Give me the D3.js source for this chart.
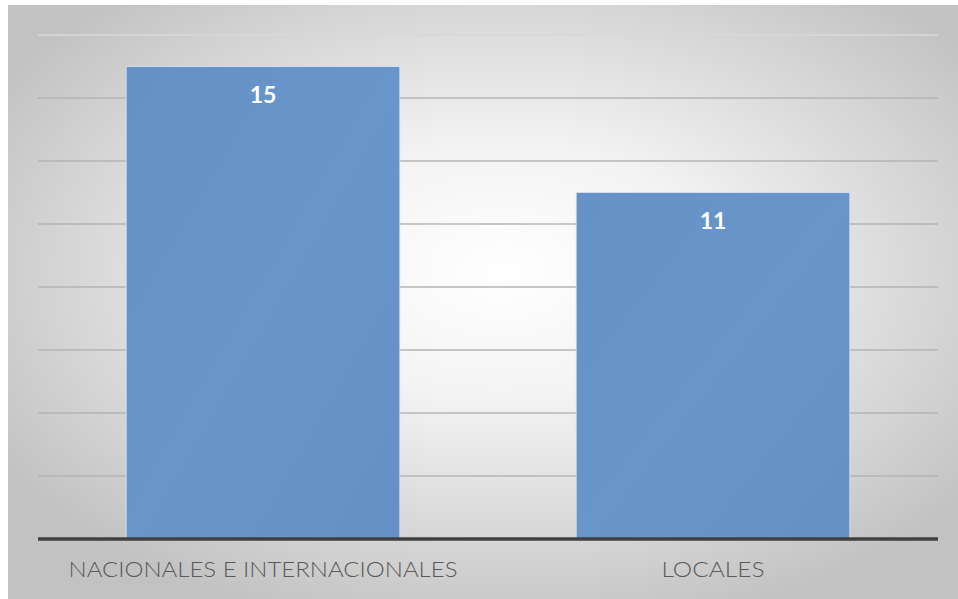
<!DOCTYPE html>
<html>
<head>
<meta charset="utf-8">
<script src="https://cdn.jsdelivr.net/npm/d3@7"></script>
<style>
html,body{margin:0;padding:0;background:#fff;}
svg{display:block;}
</style>
</head>
<body>
<svg id="chart" width="958" height="599"></svg>
<script>
const categories = ["NACIONALES E INTERNACIONALES", "LOCALES"];
const values = [15, 11];
const yTicks = [0, 2, 4, 6, 8, 10, 12, 14, 16];

const W = 958, H = 599;
const svg = d3.select("#chart");
const defs = svg.append("defs");

const rg = defs.append("radialGradient").attr("id", "bg")
  .attr("cx", "52%").attr("cy", "45%").attr("r", "62%");
rg.append("stop").attr("offset", "0%").attr("stop-color", "#ffffff");
rg.append("stop").attr("offset", "35%").attr("stop-color", "#f3f3f3");
rg.append("stop").attr("offset", "100%").attr("stop-color", "#c2c2c2");

const barG = defs.append("linearGradient").attr("id", "barg")
  .attr("x1", "0%").attr("y1", "0%").attr("x2", "100%").attr("y2", "100%");
barG.append("stop").attr("offset", "0%").attr("stop-color", "#6591c6");
barG.append("stop").attr("offset", "50%").attr("stop-color", "#6996ca");
barG.append("stop").attr("offset", "100%").attr("stop-color", "#6590c5");

svg.append("rect").attr("x", 8).attr("y", 5).attr("width", W - 8).attr("height", H - 5)
  .attr("fill", "url(#bg)");

const x = d3.scaleBand().domain(categories).range([38, 938])
  .paddingInner(0.392).paddingOuter(0.196);
const y = d3.scaleLinear().domain([0, 16]).range([539, 35]);

// gridlines
svg.append("g").selectAll("line").data(yTicks.filter(d => d > 0)).join("line")
  .attr("x1", 38).attr("x2", 938)
  .attr("y1", d => y(d)).attr("y2", d => y(d))
  .attr("stroke", (d) => d === 16 ? "#d9d9d9" : "#b4b4b4")
  .attr("stroke-width", 1.3);

// bars
svg.append("g").selectAll("rect").data(values).join("rect")
  .attr("x", (d, i) => x(categories[i]))
  .attr("y", d => y(d))
  .attr("width", x.bandwidth())
  .attr("height", d => y(0) - y(d))
  .attr("fill", "url(#barg)")
  .attr("stroke", "#dce6f2")
  .attr("stroke-opacity", 0.8)
  .attr("stroke-width", 1);

// data labels
svg.append("g").selectAll("text").data(values).join("text")
  .attr("x", (d, i) => x(categories[i]) + x.bandwidth() / 2)
  .attr("y", d => y(d) + 36)
  .attr("text-anchor", "middle")
  .attr("fill", "#ffffff")
  .attr("font-family", "Lato, 'Open Sans', sans-serif")
  .attr("font-weight", "bold")
  .attr("font-size", 23)
  .text(d => d);

// x axis baseline
svg.append("line").attr("x1", 38).attr("x2", 938).attr("y1", y(0)).attr("y2", y(0))
  .attr("stroke", "#404040").attr("stroke-width", 3.5);

// category labels
const xAxis = d3.axisBottom(x).tickSize(0).tickPadding(0);
const ax = svg.append("g").attr("transform", `translate(0, ${y(0)})`).call(xAxis);
ax.select(".domain").remove();
ax.selectAll("text")
  .attr("dy", 0)
  .attr("y", 38)
  .attr("fill", "#595959")
  .attr("font-family", "Lato, 'Open Sans', sans-serif")
  .attr("font-weight", 300)
  .attr("font-size", 22)
  .attr("textLength", (d, i) => i === 0 ? 389 : 103)
  .attr("lengthAdjust", "spacingAndGlyphs");
</script>
</body>
</html>
